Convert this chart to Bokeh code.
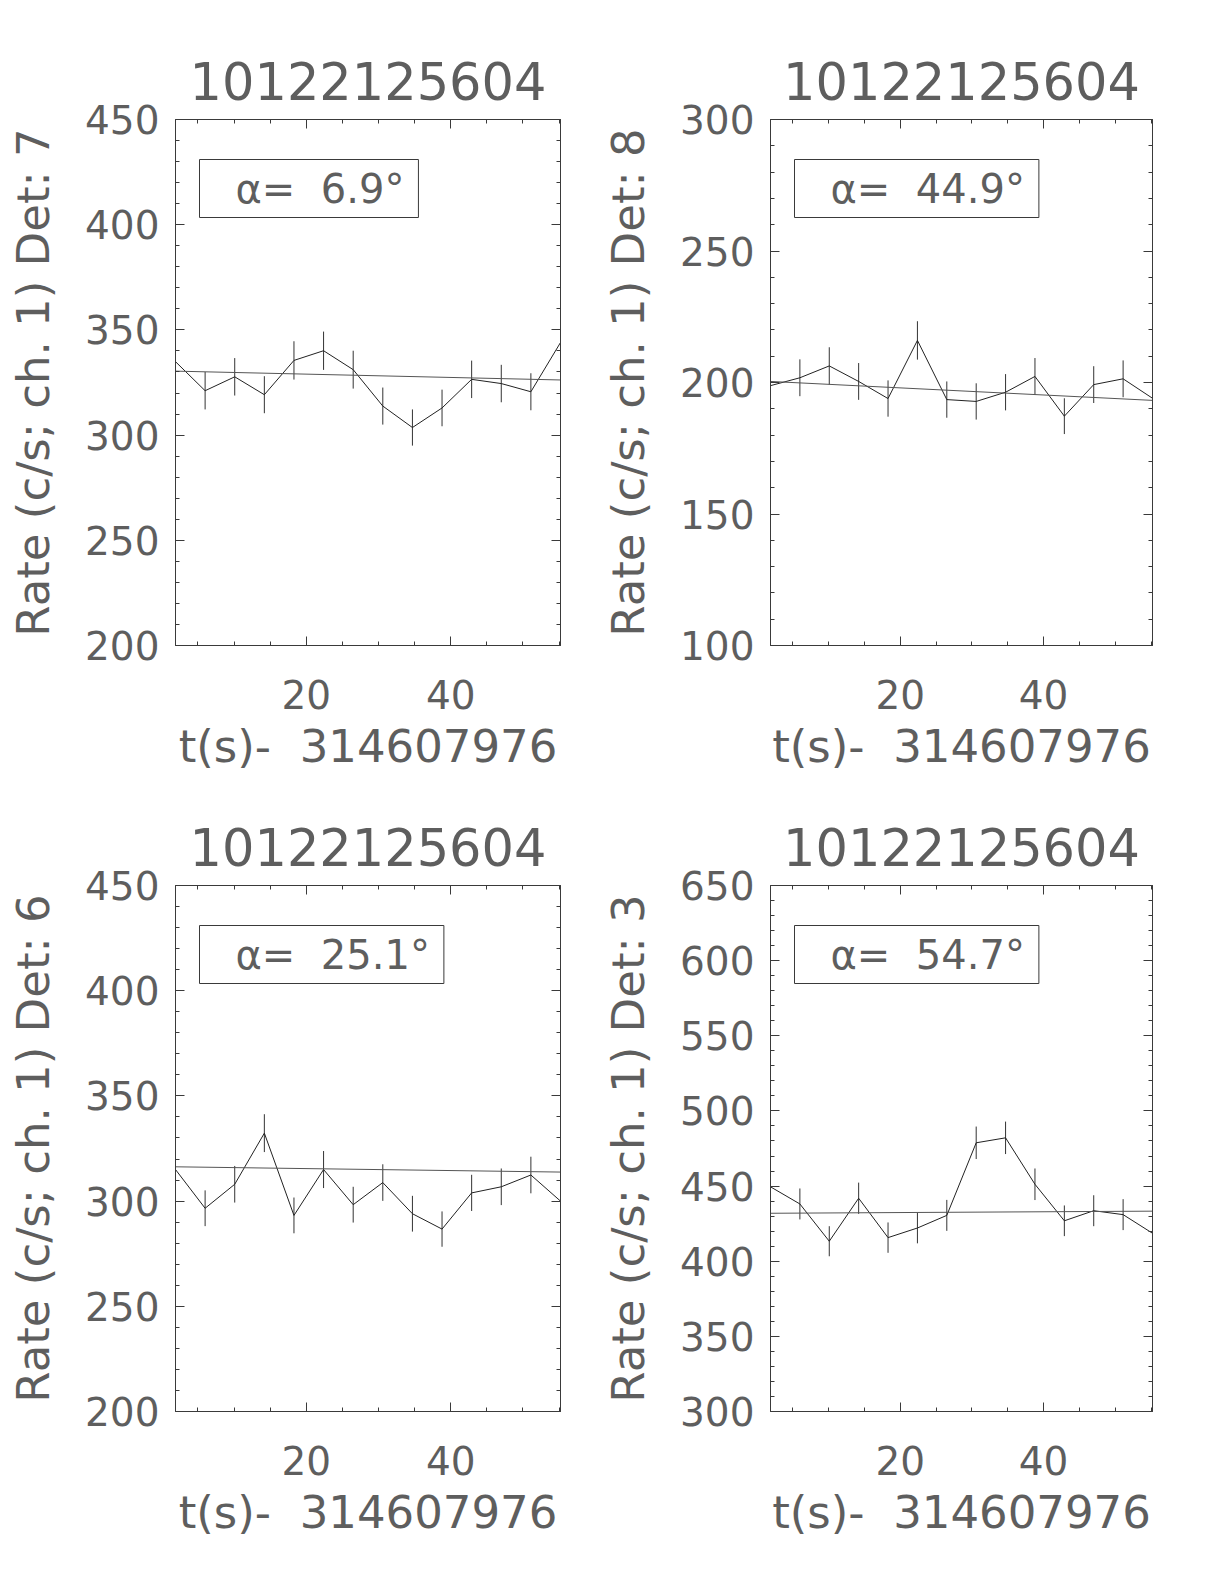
from bokeh.plotting import figure
from bokeh.layouts import column, row
from bokeh.models import LinearAxis, FixedTicker, Label, Range1d
from bokeh.embed import file_html
from bokeh.resources import INLINE

# ---- data ----
t = [1.9, 6.0, 10.1, 14.2, 18.3, 22.4, 26.5, 30.6, 34.7, 38.8, 42.9, 47.0, 51.1, 55.2]

title_text = "10122125604"
xlabel_text = "t(s)-\u00a0\u00a0314607976"

det7_rate = [334.9, 321.1, 327.7, 319.2, 335.5, 340.1, 331.1, 313.8, 303.6, 312.9, 326.5, 324.5, 320.6, 344.0]
det7_err = [9.0, 8.9, 8.9, 8.8, 9.1, 9.1, 9.0, 8.8, 8.6, 8.7, 8.9, 8.9, 8.8, 9.2]
det7_fit = [330.4, 326.2]
det7_alpha = "6.9"

det8_rate = [198.8, 201.8, 206.3, 200.4, 193.9, 216.0, 193.5, 192.8, 196.3, 202.3, 187.2, 199.2, 201.4, 194.0]
det8_err = [7.0, 7.0, 7.1, 7.0, 6.9, 7.3, 6.9, 6.9, 6.9, 7.0, 6.8, 7.0, 7.0, 6.9]
det8_fit = [200.4, 193.2]
det8_alpha = "44.9"

det6_rate = [315.0, 296.6, 308.0, 332.3, 293.2, 315.0, 298.3, 308.8, 294.0, 286.7, 303.9, 306.8, 312.4, 300.0]
det6_err = [8.8, 8.5, 8.7, 9.0, 8.5, 8.8, 8.5, 8.7, 8.5, 8.4, 8.6, 8.7, 8.7, 8.6]
det6_fit = [316.3, 313.8]
det6_alpha = "25.1"

det3_rate = [449.5, 438.1, 413.3, 441.9, 415.7, 422.1, 430.5, 478.8, 482.1, 451.2, 426.9, 433.6, 431.0, 418.6]
det3_err = [10.5, 10.3, 10.0, 10.4, 10.1, 10.2, 10.3, 10.8, 10.8, 10.5, 10.2, 10.3, 10.3, 10.1]
det3_fit = [431.9, 433.3]
det3_alpha = "54.7"

x_major = [20, 40]
x_minor = [5, 10, 15, 25, 30, 35, 45, 50, 55]

FONT = "DejaVu Sans"
TXT = "#5e5e5e"
AX = "#3a3a3a"


def make_panel(det, rate, err, fit, alpha, ylo, yhi, width, left, right, top, bottom):
    p = figure(width=width, height=top + 526 + bottom, output_backend="svg", toolbar_location=None,
               x_range=Range1d(t[0], t[-1]), y_range=Range1d(ylo, yhi),
               min_border_left=left, min_border_right=right,
               min_border_top=top, min_border_bottom=bottom,
               title=title_text)
    p.title.text_font = FONT
    p.title.text_font_size = "51px"
    p.title.text_font_style = "normal"
    p.title.text_color = TXT
    p.title.align = "center"
    p.title.standoff = 40
    p.background_fill_color = "white"
    p.border_fill_color = "white"
    p.outline_line_color = AX
    p.outline_line_width = 1
    p.xgrid.visible = False
    p.ygrid.visible = False

    y_major = list(range(ylo, yhi + 1, 50))
    y_minor = [v for v in range(ylo, yhi + 1, 10) if v % 50 != 0]
    xt = FixedTicker(ticks=x_major, minor_ticks=x_minor)
    yt = FixedTicker(ticks=y_major, minor_ticks=y_minor)

    for ax in (p.xaxis[0], p.yaxis[0]):
        ax.major_tick_in = 9
        ax.major_tick_out = 0
        ax.minor_tick_in = 4
        ax.minor_tick_out = 0
        ax.axis_line_color = AX
        ax.major_tick_line_color = AX
        ax.minor_tick_line_color = AX
        ax.major_label_text_font = FONT
        ax.major_label_text_font_size = "39px"
        ax.major_label_text_color = TXT
        ax.axis_label_text_font = FONT
        ax.axis_label_text_font_size = "45px"
        ax.axis_label_text_font_style = "normal"
        ax.axis_label_text_color = TXT
    p.xaxis[0].ticker = xt
    p.yaxis[0].ticker = yt
    p.xaxis[0].axis_label = xlabel_text
    p.yaxis[0].axis_label = "Rate (c/s; ch. 1) Det: " + det
    p.xaxis[0].major_label_standoff = 34
    p.xaxis[0].axis_label_standoff = 8
    p.yaxis[0].major_label_standoff = 16
    p.yaxis[0].axis_label_standoff = 22

    for loc, tk in (("above", xt), ("right", yt)):
        a = LinearAxis(ticker=tk)
        a.major_tick_in = 9
        a.major_tick_out = 0
        a.minor_tick_in = 4
        a.minor_tick_out = 0
        a.axis_line_color = AX
        a.major_tick_line_color = AX
        a.minor_tick_line_color = AX
        a.major_label_text_font_size = "0px"
        a.major_label_text_color = None
        a.major_label_standoff = 0
        p.add_layout(a, loc)

    # error bars
    lo = [r - e for r, e in zip(rate, err)]
    hi = [r + e for r, e in zip(rate, err)]
    p.segment(x0=t, y0=lo, x1=t, y1=hi, line_color="#333333", line_width=1)
    # light curve
    p.line(t, rate, line_color="#222222", line_width=1)
    # linear fit
    p.line([t[0], t[-1]], fit, line_color="#555555", line_width=1)

    lab = Label(x=24, y=486, x_units="screen", y_units="screen",
                text="\u03b1=\u00a0\u00a0" + alpha + "\u00b0",
                text_font=FONT, text_font_size="40px", text_color=TXT,
                text_align="left", text_baseline="top",
                border_line_color=AX, border_line_width=1,
                padding=dict(left=36, right=14, top=6, bottom=6))
    p.add_layout(lab)
    return p


p1 = make_panel("7", det7_rate, det7_err, det7_fit, det7_alpha, 200, 450, 599, 175, 39, 119, 141)
p2 = make_panel("8", det8_rate, det8_err, det8_fit, det8_alpha, 100, 300, 609, 169, 56, 119, 141)
p3 = make_panel("6", det6_rate, det6_err, det6_fit, det6_alpha, 200, 450, 599, 175, 39, 99, 141)
p4 = make_panel("3", det3_rate, det3_err, det3_fit, det3_alpha, 300, 650, 609, 169, 56, 99, 141)

layout = column(row(p1, p2), row(p3, p4))
open("out.html", "w").write(file_html(layout, INLINE))
